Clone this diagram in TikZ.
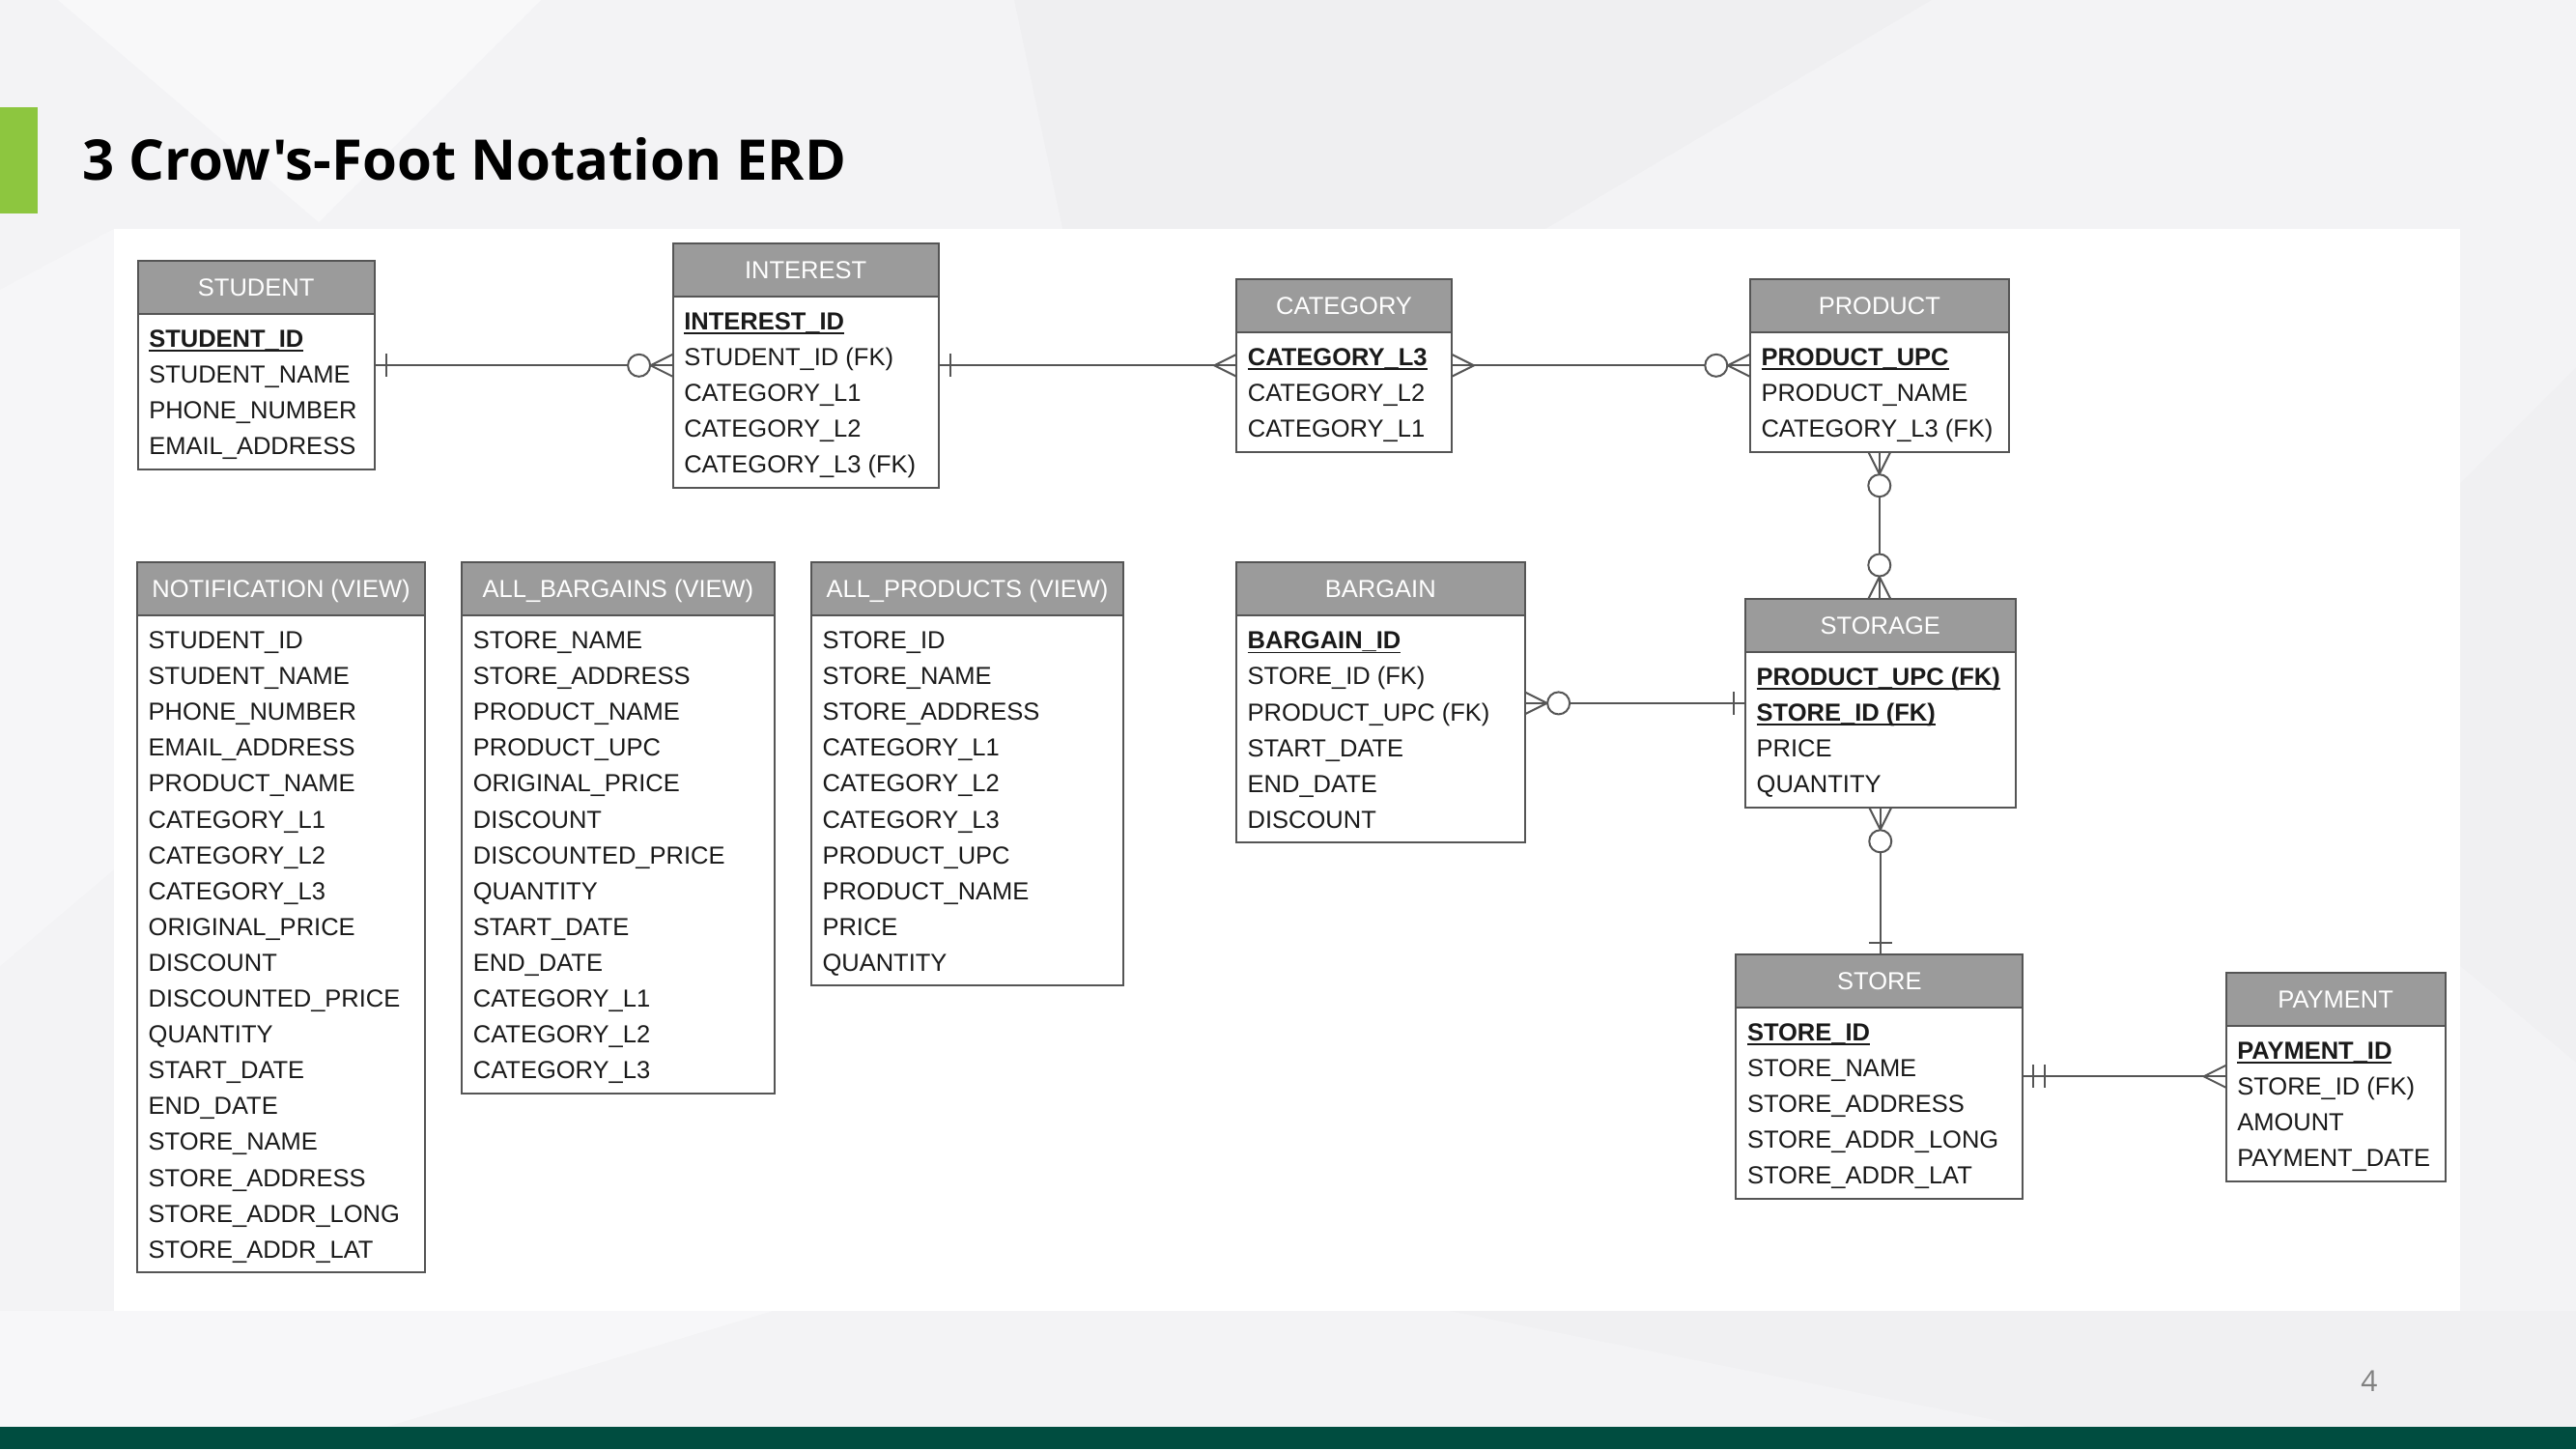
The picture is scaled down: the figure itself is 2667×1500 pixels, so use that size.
\documentclass[tikz,border=0pt]{standalone}
\usepackage{fontspec}
\setmainfont{Liberation Sans}
\newfontfamily\titlefont{Open Sans}[Ligatures=TeXOff]
\usetikzlibrary{calc}
\definecolor{bgcol}{HTML}{F3F3F5}
\definecolor{hdrgray}{HTML}{9B9B9B}
\definecolor{bordergray}{HTML}{555555}
\definecolor{txtcol}{HTML}{1A1A1A}
\definecolor{accentgreen}{HTML}{8DC63F}
\definecolor{footgreen}{HTML}{004D40}
\definecolor{pagegray}{HTML}{808080}
\newcommand\pk[1]{\setbox0\hbox{\bfseries #1}\rlap{\rule[-4.5pt]{\wd0}{1.8pt}}\box0}
\tikzset{
  tblbox/.style={draw=bordergray, fill=white, line width=2pt, inner sep=0pt, outer sep=0pt, anchor=north west},
  hdrbox/.style={draw=bordergray, fill=hdrgray, line width=2pt, inner sep=0pt, outer sep=0pt, anchor=north west,
    minimum height=55pt, text height=18.3pt, text depth=0pt, text=white, font=\fontsize{25.5}{30}\selectfont},
  rowtext/.style={inner sep=0pt, anchor=base west, text=txtcol, font=\fontsize{25.5}{30}\selectfont},
  rel/.style={draw=bordergray, line width=2pt},
  pics/crow/.style={code={\draw[rel] (0,11.5) -- (23,0) -- (0,-11.5);}},
  pics/zcirc/.style={code={\draw[rel, fill=white] (35,0) circle[radius=11.5pt];}},
  pics/onebar/.style={code={\draw[rel] (12,-12) -- (12,12);}},
  pics/twobar/.style={code={\draw[rel] (11,-12) -- (11,12) (23,-12) -- (23,12);}},
}
% name, left, right, top, title, number of rows, rows
\newcommand\erdtable[7]{%
  \node[tblbox, minimum width={(#3-#2)*1pt}, minimum height={(89+(#6-1)*37.1+15.5)*1pt}] (#1) at (#2,#4) {};
  \node[hdrbox, minimum width={(#3-#2)*1pt}] (#1-h) at (#2,#4) {#5};
  \foreach \r [count=\i] in {#7} {\node[rowtext] (#1-\i) at ({#2+11.5},{#4+89.5+(\i-1)*37.1}) {\r};}
}
\begin{document}
\begin{tikzpicture}[x=1pt, y=-1pt]
\useasboundingbox (0,0) rectangle (2667,1500);
% background
\fill[bgcol] (0,0) rectangle (2667,1500);
\fill[white, opacity=0.45] (60,0) -- (560,0) -- (330,230) -- cycle;
\fill[white, opacity=0.3] (0,300) -- (118,237) -- (118,900) -- (0,1000) -- cycle;
\fill[black, opacity=0.015] (1050,0) -- (2000,0) -- (1600,237) -- (1100,237) -- cycle;
\fill[black, opacity=0.012] (2547,500) -- (2667,380) -- (2667,1100) -- (2547,1000) -- cycle;
\fill[white, opacity=0.4] (0,1357) -- (800,1357) -- (400,1477) -- (0,1477) -- cycle;
\fill[black, opacity=0.012] (1500,1357) -- (2667,1357) -- (2667,1477) -- (2100,1477) -- cycle;
\fill[white] (118,237) rectangle (2547,1357);
\fill[accentgreen] (0,111) rectangle (39,221);
\fill[footgreen] (0,1477) rectangle (2667,1500);
\node[anchor=base west, inner sep=0pt, font=\titlefont\bfseries\fontsize{58}{62}\selectfont] (title) at (85,186) {3 Crow's-Foot Notation ERD};
\node[font=\titlefont\fontsize{30}{34}\selectfont, text=pagegray] (pnum) at (2453,1430) {4};

% tables
\erdtable{student}{142.6}{387.7}{270}{STUDENT}{4}{\pk{STUDENT\_ID}, STUDENT\_NAME, PHONE\_NUMBER, EMAIL\_ADDRESS}
\erdtable{interest}{696.6}{971.6}{251.7}{INTEREST}{5}{\pk{INTEREST\_ID}, STUDENT\_ID (FK), CATEGORY\_L1, CATEGORY\_L2, CATEGORY\_L3 (FK)}
\erdtable{category}{1280.2}{1503}{289}{CATEGORY}{3}{\pk{CATEGORY\_L3}, CATEGORY\_L2, CATEGORY\_L1}
\erdtable{product}{1811.8}{2079.8}{289}{PRODUCT}{3}{\pk{PRODUCT\_UPC}, PRODUCT\_NAME, CATEGORY\_L3 (FK)}
\erdtable{notif}{142}{440}{582}{NOTIFICATION (VIEW)}{18}{STUDENT\_ID, STUDENT\_NAME, PHONE\_NUMBER, EMAIL\_ADDRESS, PRODUCT\_NAME, CATEGORY\_L1, CATEGORY\_L2, CATEGORY\_L3, ORIGINAL\_PRICE, DISCOUNT, DISCOUNTED\_PRICE, QUANTITY, START\_DATE, END\_DATE, STORE\_NAME, STORE\_ADDRESS, STORE\_ADDR\_LONG, STORE\_ADDR\_LAT}
\erdtable{allbarg}{478.2}{801.7}{582}{ALL\_BARGAINS (VIEW)}{13}{STORE\_NAME, STORE\_ADDRESS, PRODUCT\_NAME, PRODUCT\_UPC, ORIGINAL\_PRICE, DISCOUNT, DISCOUNTED\_PRICE, QUANTITY, START\_DATE, END\_DATE, CATEGORY\_L1, CATEGORY\_L2, CATEGORY\_L3}
\erdtable{allprod}{839.8}{1163.3}{582}{ALL\_PRODUCTS (VIEW)}{10}{STORE\_ID, STORE\_NAME, STORE\_ADDRESS, CATEGORY\_L1, CATEGORY\_L2, CATEGORY\_L3, PRODUCT\_UPC, PRODUCT\_NAME, PRICE, QUANTITY}
\erdtable{bargain}{1280}{1578.6}{582.3}{BARGAIN}{6}{\pk{BARGAIN\_ID}, STORE\_ID (FK), PRODUCT\_UPC (FK), START\_DATE, END\_DATE, DISCOUNT}
\erdtable{storage}{1807}{2086.5}{620}{STORAGE}{4}{\pk{PRODUCT\_UPC (FK)}, \pk{STORE\_ID (FK)}, PRICE, QUANTITY}
\erdtable{store}{1797.3}{2094.3}{987.7}{STORE}{5}{\pk{STORE\_ID}, STORE\_NAME, STORE\_ADDRESS, STORE\_ADDR\_LONG, STORE\_ADDR\_LAT}
\erdtable{payment}{2304.6}{2531.6}{1006.7}{PAYMENT}{4}{\pk{PAYMENT\_ID}, STORE\_ID (FK), AMOUNT, PAYMENT\_DATE}

% STUDENT - INTEREST
\draw[rel] (student.east |- interest-2.base) -- (interest.west |- interest-2.base);
\pic at (student.east |- interest-2.base) {onebar};
\pic[rotate=180] at (interest.west |- interest-2.base) {crow};
\pic[rotate=180] at (interest.west |- interest-2.base) {zcirc};
% INTEREST - CATEGORY
\draw[rel] (interest.east |- interest-2.base) -- (category.west |- interest-2.base);
\pic at (interest.east |- interest-2.base) {onebar};
\pic[rotate=180] at (category.west |- interest-2.base) {crow};
% CATEGORY - PRODUCT
\draw[rel] (category.east |- interest-2.base) -- (product.west |- interest-2.base);
\pic at (category.east |- interest-2.base) {crow};
\pic[rotate=180] at (product.west |- interest-2.base) {crow};
\pic[rotate=180] at (product.west |- interest-2.base) {zcirc};
% PRODUCT - STORAGE
\draw[rel] (product.south) -- (product.south |- storage.north);
\pic[rotate=-90] at (product.south) {crow};
\pic[rotate=-90] at (product.south) {zcirc};
\pic[rotate=90] at (product.south |- storage.north) {crow};
\pic[rotate=90] at (product.south |- storage.north) {zcirc};
% BARGAIN - STORAGE
\draw[rel] (bargain.east |- storage.center) -- (storage.west |- storage.center);
\pic at (bargain.east |- storage.center) {crow};
\pic at (bargain.east |- storage.center) {zcirc};
\pic[rotate=180] at (storage.west |- storage.center) {onebar};
% STORAGE - STORE
\draw[rel] (storage.south) -- (storage.south |- store.north);
\pic[rotate=-90] at (storage.south) {crow};
\pic[rotate=-90] at (storage.south) {zcirc};
\pic[rotate=90] at (storage.south |- store.north) {onebar};
% STORE - PAYMENT
\draw[rel] (store.east |- store-2.base) -- (payment.west |- store-2.base);
\pic at (store.east |- store-2.base) {twobar};
\pic[rotate=180] at (payment.west |- store-2.base) {crow};
\end{tikzpicture}
\end{document}
